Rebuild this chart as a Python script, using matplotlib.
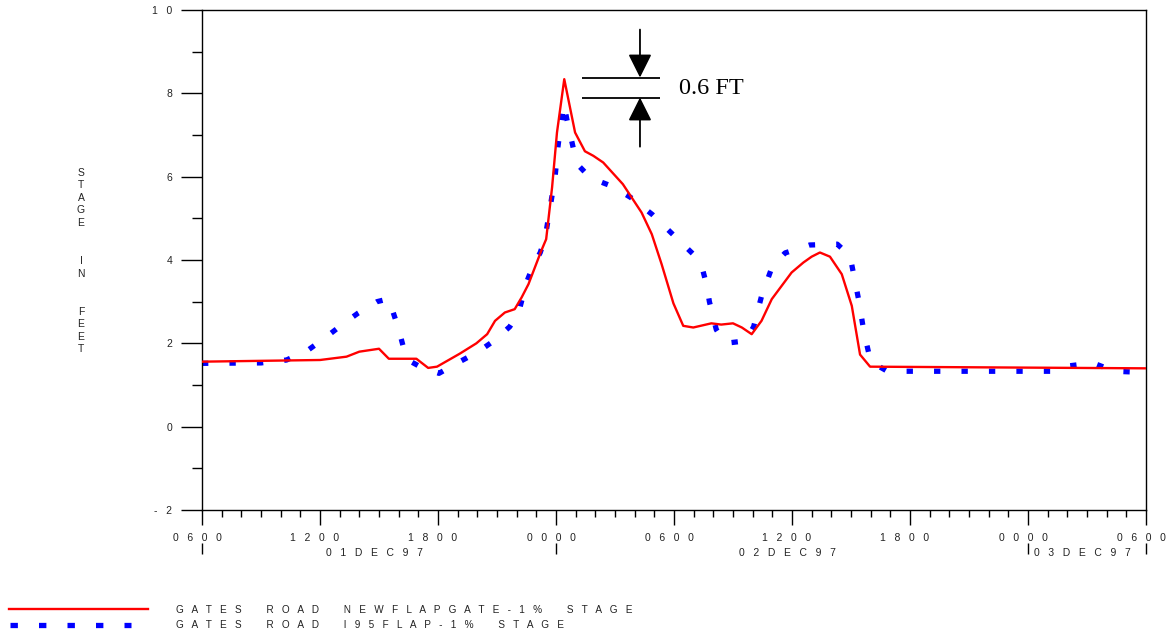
import matplotlib
matplotlib.use("Agg")
import matplotlib.pyplot as plt
from matplotlib.lines import Line2D
from matplotlib.transforms import ScaledTranslation

plt.rcParams['font.family'] = ['Liberation Sans', 'DejaVu Sans']

# ---- data: hours since 01DEC97 0600 ----
red_t = [0, 3, 6, 7.35, 8.0, 9.0, 9.5, 10.9, 11.5, 11.95, 13.1, 13.95, 14.5, 14.9, 15.4,
         15.9, 16.25, 16.6, 17.25, 17.5, 17.8, 18.05, 18.42, 18.97, 19.47, 19.9, 20.4,
         21.4, 22.35, 22.87, 23.37, 23.97, 24.47, 24.98, 25.9, 26.4, 27.0, 27.45, 27.95,
         28.45, 28.97, 29.98, 30.58, 31.0, 31.42, 31.93, 32.53, 33.04, 33.46, 33.97, 48]
red_v = [1.56, 1.58, 1.60, 1.68, 1.80, 1.87, 1.63, 1.63, 1.41, 1.44, 1.75, 2.00, 2.22, 2.54, 2.74,
         2.82, 3.10, 3.42, 4.22, 4.50, 5.74, 7.06, 8.34, 7.06, 6.61, 6.50, 6.34,
         5.82, 5.14, 4.62, 3.90, 2.96, 2.42, 2.38, 2.48, 2.45, 2.48, 2.38, 2.22,
         2.54, 3.06, 3.70, 3.94, 4.08, 4.18, 4.08, 3.66, 2.90, 1.73, 1.44, 1.40]

blue_t = [0, 3.0, 4.3, 5.4, 6.25, 7.1, 7.95, 8.9, 9.5, 9.75, 10.0, 10.2, 10.4, 11.2, 12.05,
          12.95, 14.05, 14.9, 15.65, 16.1, 16.5, 16.8, 17.2, 17.45, 17.7, 17.95, 18.1, 18.2,
          18.4, 18.55, 18.9, 19.1, 19.75, 20.9, 21.8, 22.9, 23.6, 24.3, 25.0, 25.45, 25.65,
          25.8, 26.15, 26.6, 27.65, 28.05, 28.45, 29.0, 29.65, 30.9, 32.3, 32.95, 33.1, 33.4,
          33.65, 34.0, 34.85, 43.4, 44.1, 45.3, 46.4, 48]
blue_v = [1.52, 1.53, 1.60, 1.84, 2.13, 2.44, 2.73, 3.00, 3.07, 2.70, 2.34, 1.98, 1.62, 1.41, 1.28,
          1.52, 1.80, 2.08, 2.40, 2.74, 3.46, 3.82, 4.18, 4.54, 5.26, 5.98, 6.72, 7.09,
          7.75, 7.38, 6.64, 6.29, 5.97, 5.76, 5.50, 5.09, 4.77, 4.45, 4.13, 3.78, 3.42,
          3.00, 2.33, 2.00, 2.06, 2.40, 3.13, 3.85, 4.17, 4.36, 4.38, 4.10, 3.74, 3.02,
          2.29, 1.56, 1.33, 1.33, 1.46, 1.53, 1.33, 1.30]

x_major = [0, 6, 12, 18, 24, 30, 36, 42, 48]
x_labels = ["0600", "1200", "1800", "0000", "0600", "1200", "1800", "0000", "0600"]
y_major = [-2, 0, 2, 4, 6, 8, 10]
y_labels = ["-2", "0", "2", "4", "6", "8", "10"]
day_bounds = [0, 18, 42, 48]
day_labels = ["01DEC97", "02DEC97", "03DEC97"]
series_names = ["GATES ROAD NEWFLAPGATE-1% STAGE", "GATES ROAD I95FLAP-1% STAGE"]
ylabel = "STAGE IN FEET"


def spaced(s, gap="   "):
    return (gap * 3).join(gap.join(w) for w in s.split(" "))


W, H = 1169, 634
fig = plt.figure(figsize=(W / 100, H / 100), dpi=100)
ax = fig.add_axes([202 / W, 1 - 510 / H, 944 / W, 500 / H])

ax.plot(red_t, red_v, color='#ff0000', lw=1.7, zorder=3)
ax.plot(blue_t, blue_v, color='#0000ff', lw=3.8, linestyle=(0, (1.2, 4.0)),
        dash_capstyle='butt', zorder=2)

ax.set_xlim(0, 48)
ax.set_ylim(-2, 10)

ax.set_xticks(x_major)
ax.set_xticklabels([spaced(s) for s in x_labels])
ax.set_xticks(range(0, 49), minor=True)
ax.set_yticks(y_major)
ax.set_yticklabels([spaced(s) for s in y_labels])
ax.set_yticks(range(-1, 10, 2), minor=True)

ax.tick_params(axis='x', which='major', direction='out', length=10.8, width=1,
               pad=5.5, labelsize=7.5, labelcolor='#222222')
ax.tick_params(axis='x', which='minor', direction='out', length=5, width=1)
ax.tick_params(axis='y', which='major', direction='out', length=15, width=1,
               pad=6.5, labelsize=7.5, labelcolor='#222222')
ax.tick_params(axis='y', which='minor', direction='out', length=7.2, width=1)
for sp in ax.spines.values():
    sp.set_linewidth(1)
    sp.set_color('black')

shift = ScaledTranslation(-5 / 100, 0, fig.dpi_scale_trans)
for lab in ax.get_xticklabels():
    lab.set_transform(lab.get_transform() + shift)

# date row
xt = ax.get_xaxis_transform()
for i, lab in enumerate(day_labels):
    xc = (day_bounds[i] + day_bounds[i + 1]) / 2
    ax.text(xc, -0.086, spaced(lab), transform=xt + shift, ha='center', va='center',
            fontsize=7.5, color='#222222', clip_on=False)
ax.vlines(day_bounds, -0.066, -0.088, transform=xt, colors='black', lw=1, clip_on=False)

# y label
fig.text(81 / W, 1 - 261 / H, "\n".join(ylabel.replace(" ", "  ")).replace("\n \n", "\n\n"),
         ha='center', va='center', fontsize=7.5, color='#222222', linespacing=1.33)

# annotation 0.6 FT
ax.hlines([8.38, 7.90], 19.32, 23.29, colors='black', lw=1.3)
ap = dict(arrowstyle='-|>,head_length=1.44,head_width=0.72', color='black', lw=1.3,
          shrinkA=0, shrinkB=0, mutation_scale=10)
ax.annotate('', xy=(22.27, 8.38), xytext=(22.27, 9.53), arrowprops=ap)
ax.annotate('', xy=(22.27, 7.90), xytext=(22.27, 6.72), arrowprops=ap)
ax.text(24.25, 7.99, "0.6 FT", family=['Liberation Serif', 'DejaVu Serif'],
        fontsize=17.5, ha='left', va='baseline', color='black')

# legend
fig.add_artist(Line2D([9 / W, 148 / W], [1 - 609 / H] * 2, transform=fig.transFigure,
                      color='#ff0000', lw=1.7))
fig.add_artist(Line2D([10 / W, 131 / W], [1 - 625 / H] * 2, transform=fig.transFigure,
                      color='#0000ff', lw=3.8, linestyle=(0, (1.4, 4.0)), dash_capstyle='butt'))
fig.text(176 / W, 1 - 610 / H, spaced(series_names[0]), ha='left', va='center',
         fontsize=7.2, color='#222222')
fig.text(176 / W, 1 - 625 / H, spaced(series_names[1]), ha='left', va='center',
         fontsize=7.2, color='#222222')

fig.savefig('out.png', dpi=100)
